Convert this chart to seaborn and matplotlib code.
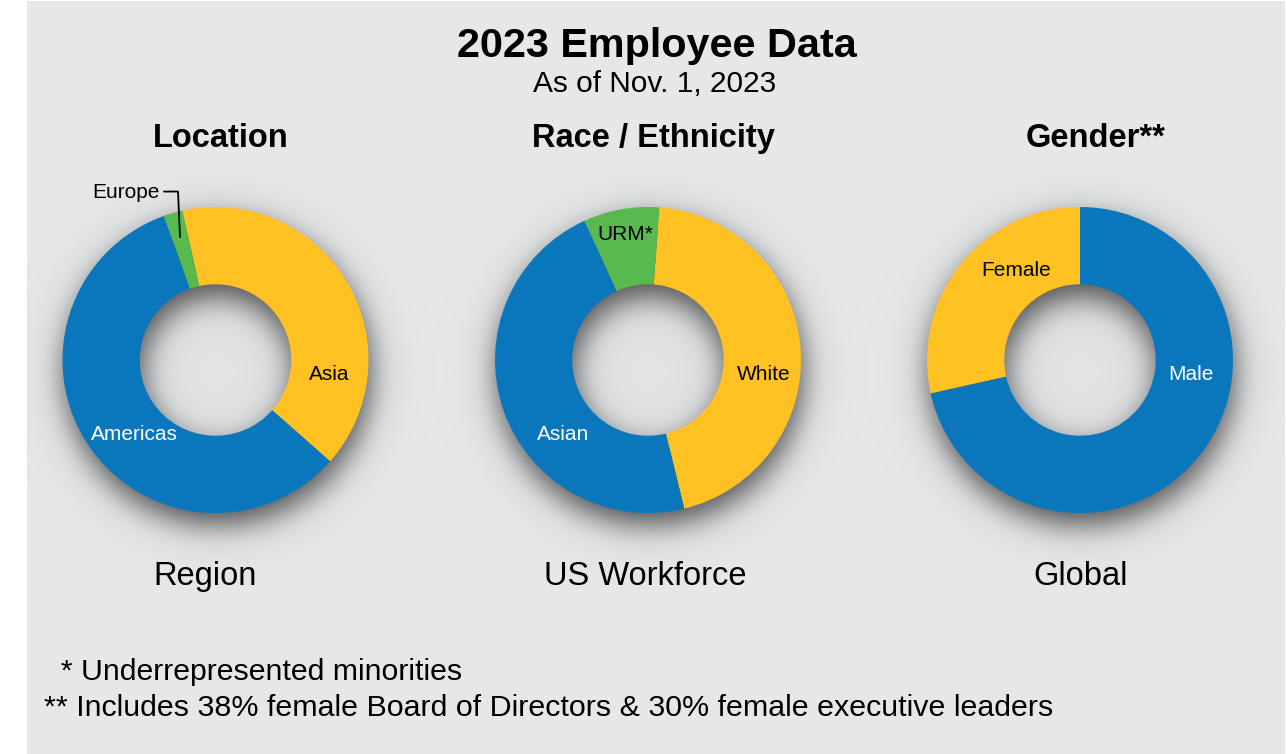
import matplotlib
matplotlib.use("Agg")
import matplotlib.pyplot as plt
import seaborn as sns
import numpy as np

# -------------------------
# data
# -------------------------
location_labels = ["Asia", "Americas", "Europe"]
location_values = [40, 58, 2]

race_labels = ["White", "Asian", "URM*"]
race_values = [45, 47, 8]

gender_labels = ["Male", "Female"]
gender_values = [71.5, 28.5]

panel_titles = ["Location", "Race / Ethnicity", "Gender**"]
panel_captions = ["Region", "US Workforce", "Global"]

BLUE = "#0a77bd"
YELLOW = "#ffc222"
GREEN = "#57b94e"
BG = "#e6e7e9"

sns.set_style("white")
plt.rcParams["font.family"] = ["Liberation Sans", "DejaVu Sans"]
plt.rcParams["text.color"] = "black"

W, H = 1286, 754
fig = plt.figure(figsize=(W / 100, H / 100), dpi=100, facecolor="white")

# grey panel
panel = plt.Rectangle((27 / W, 0.0), (1285 - 27) / W, 1 - 1 / H,
                      transform=fig.transFigure, facecolor=BG,
                      edgecolor="none", zorder=-10)
fig.patches.append(panel)

R_PX = 153
LIM = 1.3
HOLE = 0.495


def gauss_blur(img, sigma):
    n = img.shape[0]
    k = np.fft.fftfreq(n)
    g = np.exp(-2 * (np.pi * sigma * k) ** 2)
    f = np.fft.fft2(img) * g[:, None] * g[None, :]
    return np.real(np.fft.ifft2(f))


def shadow(ax):
    # soft drop shadow under the ring (also falls into the hole)
    n = 700
    xs = np.linspace(-2.2, 2.2, n)
    step = xs[1] - xs[0]
    X, Y = np.meshgrid(xs, xs)
    ox, oy = 2 / R_PX, -12 / R_PX
    rr = np.hypot(X - ox, Y - oy)
    ring = ((rr <= 1.0) & (rr >= HOLE)).astype(float)
    a = 0.58 * gauss_blur(ring, (14 / R_PX) / step)
    a += 0.10 * gauss_blur(ring, (40 / R_PX) / step)
    a = np.clip(a, 0, 1)
    rgba = np.zeros((n, n, 4))
    rgba[..., 3] = a
    im = ax.imshow(rgba, extent=[xs[0], xs[-1], xs[0], xs[-1]], origin="lower",
                   zorder=0, interpolation="bilinear")
    im.set_clip_path(panel)


def donut(cx, cy, values, colors, start):
    S = 2 * LIM * R_PX
    ax = fig.add_axes([(cx - S / 2) / W, (H - cy - S / 2) / H, S / W, S / H])
    ax.set_facecolor("none")
    shadow(ax)
    ax.pie(values, colors=colors, startangle=start, counterclock=False,
           radius=1.0, wedgeprops=dict(width=1 - HOLE, edgecolor="none", zorder=2))
    ax.set_xlim(-LIM, LIM)
    ax.set_ylim(-LIM, LIM)
    ax.set_aspect("equal")
    ax.axis("off")
    return ax


ax1 = donut(215.5, 360, location_values, [YELLOW, BLUE, GREEN], 102.5)
ax2 = donut(648, 360, race_values, [YELLOW, BLUE, GREEN], 85.7)
ax3 = donut(1080, 360, gender_values, [BLUE, YELLOW], 90)

lab = dict(fontsize=15, ha="center", va="center", zorder=5)
ax1.text(0.742, -0.092, location_labels[0], color="black", **lab)
ax1.text(-0.533, -0.490, location_labels[1], color="white", **lab)
ax1.text(-0.363, 1.092, location_labels[2], color="black", fontsize=15,
         ha="right", va="center", zorder=5)
ax1.plot([-0.337, -0.245, -0.232], [1.101, 1.101, 0.804], color="black",
         lw=1.3, zorder=5, clip_on=False)

ax2.text(0.758, -0.092, race_labels[0], color="black", **lab)
ax2.text(-0.556, -0.490, race_labels[1], color="white", **lab)
ax2.text(-0.150, 0.817, race_labels[2], color="black", **lab)

ax3.text(0.725, -0.092, gender_labels[0], color="white", **lab)
ax3.text(-0.418, 0.588, gender_labels[1], color="black", **lab)

fig.text(657 / W, 1 - 57 / H, "2023 Employee Data", fontsize=29.8,
         fontweight="bold", ha="center", va="baseline")
fig.text(655 / W, 1 - 92 / H, "As of Nov. 1, 2023", fontsize=21.5,
         ha="center", va="baseline")

for x, t in zip([221, 653, 1096], panel_titles):
    fig.text(x / W, 1 - 147 / H, t, fontsize=23.5, fontweight="bold",
             ha="center", va="baseline")
for x, t in zip([205, 645, 1081], panel_captions):
    fig.text(x / W, 1 - 585 / H, t, fontsize=23.5, ha="center", va="baseline")

fig.text(44 / W, 1 - 680 / H, "  * Underrepresented minorities", fontsize=21.8,
         ha="left", va="baseline")
fig.text(44 / W, 1 - 716 / H,
         "** Includes 38% female Board of Directors & 30% female executive leaders",
         fontsize=21.9, ha="left", va="baseline")

fig.savefig("out.png", dpi=100, facecolor="white")
